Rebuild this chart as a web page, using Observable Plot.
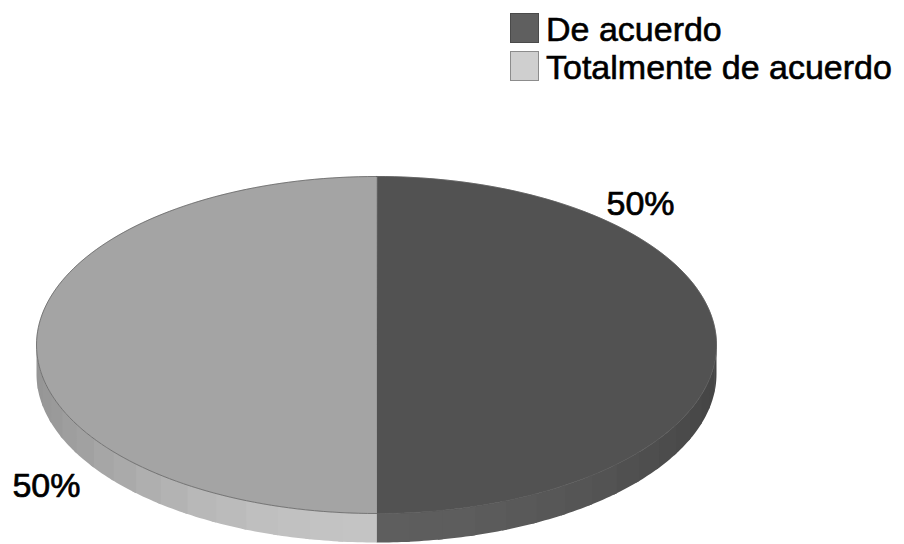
<!DOCTYPE html>
<html>
<head>
<meta charset="utf-8">
<script src="https://cdn.jsdelivr.net/npm/d3@7"></script>
<script src="https://cdn.jsdelivr.net/npm/@observablehq/plot@0.6"></script>
<style>
  html, body { margin: 0; padding: 0; background: #fff; }
  #wrap { position: relative; width: 904px; height: 544px; font-family: "Liberation Sans", Arial, sans-serif; }
  #legend { position: absolute; left: 510px; top: 10px; }
  .row { position: relative; height: 38px; line-height: 38px; font-size: 34px; color: #000; white-space: nowrap; -webkit-text-stroke: 0.6px #000; }
  .sw { position: absolute; left: 0; top: 3px; width: 29px; height: 30px; box-sizing: border-box; }
  .row span.t { margin-left: 36px; }
</style>
</head>
<body>
<div id="wrap"><div id="chart"></div><div id="legend"></div></div>
<script>
// ---- data ----
const categories = ["De acuerdo", "Totalmente de acuerdo"];
const values = [50, 50];
const labels = ["50%", "50%"];

// ---- styles ----
const topFill = ["#525252", "#a4a4a4"];
const sideEdge = ["#454545", "#959595"];
const sideMid = ["#5e5e5e", "#c4c4c4"];
const legendFill = ["#5f5f5f", "#cfcfcf"];
const legendStroke = ["#4a4a4a", "#8c8c8c"];

const W = 904, H = 544;
const cxPx = 376, cyPx = 344.5, rxPx = 340, ryPx = 168.5, depthPx = 29;
const depth = depthPx / ryPx;

const pie = d3.pie().sort(null).value(d => d)(values);
const pt = a => [Math.sin(a), Math.cos(a)];

// top faces
const tops = [];
pie.forEach((p, i) => {
  const n = 120;
  tops.push({id: "t" + i, x: 0, y: 0, fill: topFill[i]});
  for (let k = 0; k <= n; k++) {
    const a = p.startAngle + (p.endAngle - p.startAngle) * k / n;
    const [x, y] = pt(a);
    tops.push({id: "t" + i, x, y, fill: topFill[i]});
  }
});
// outline of the top rim (outer arc only)
const rim = [];
for (let k = 0; k <= 240; k++) {
  const a = 2 * Math.PI * k / 240;
  const [x, y] = pt(a);
  rim.push({x, y});
}

// sides (front half, banded shading)
const sides = [];
pie.forEach((p, i) => {
  const a0 = Math.max(p.startAngle, Math.PI / 2);
  const a1 = Math.min(p.endAngle, 3 * Math.PI / 2);
  if (a1 <= a0) return;
  const bands = 16;
  const step = (a1 - a0) / bands;
  for (let b = 0; b < bands; b++) {
    const s = a0 + step * b;
    const e = Math.min(a1, a0 + step * (b + 1) + step * 0.15);
    const m = a0 + step * (b + 0.5);
    const t = Math.pow(Math.abs(Math.sin(m)), 2);
    const col = d3.interpolateRgb(sideMid[i], sideEdge[i])(t);
    const id = "s" + i + "_" + b;
    const steps = 8;
    const upper = [], lower = [];
    for (let k = 0; k <= steps; k++) {
      const a = s + (e - s) * k / steps;
      const [x, y] = pt(a);
      upper.push({id, x, y, fill: col});
      lower.push({id, x, y: y - depth, fill: col});
    }
    sides.push(...upper, ...lower.reverse());
  }
});

// labels
const labelPts = pie.map((p, i) => {
  const a = p.startAngle + (p.endAngle - p.startAngle) * 0.25;
  const r = 1.09;
  const x = r * Math.sin(a);
  const y = -depth / 2 + r * (1 + depth / 2) * Math.cos(a);
  return {x, y, text: labels[i], right: x >= 0};
});

const font = "Liberation Sans, Arial, sans-serif";
const textOpts = {x: "x", y: "y", text: "text", fontSize: 34, fontFamily: font, fill: "#000", stroke: "#000", strokeWidth: 0.7, dx: -32, dy: -14};
const chart = Plot.plot({
  width: W,
  height: H,
  margin: 0,
  x: {domain: [-cxPx / rxPx, (W - cxPx) / rxPx], axis: null},
  y: {domain: [(cyPx - H) / ryPx, cyPx / ryPx], axis: null},
  style: {background: "white"},
  marks: [
    Plot.line(sides, {x: "x", y: "y", z: "id", fill: "fill", stroke: "none", curve: "linear-closed"}),
    Plot.line(tops, {x: "x", y: "y", z: "id", fill: "fill", stroke: "fill", strokeWidth: 0.5, curve: "linear-closed"}),
    Plot.line(rim, {x: "x", y: "y", stroke: "#5a5a5a", strokeWidth: 0.7}),
    Plot.text(labelPts.filter(d => d.right), {...textOpts, textAnchor: "start"}),
    Plot.text(labelPts.filter(d => !d.right), {...textOpts, textAnchor: "end", dx: -34})
  ]
});
document.getElementById("chart").appendChild(chart);

// legend
const legend = document.getElementById("legend");
categories.forEach((c, i) => {
  const row = document.createElement("div");
  row.className = "row";
  const sw = document.createElement("span");
  sw.className = "sw";
  sw.style.background = legendFill[i];
  sw.style.border = "1.5px solid " + legendStroke[i];
  const t = document.createElement("span");
  t.className = "t";
  t.textContent = c;
  row.appendChild(sw);
  row.appendChild(t);
  legend.appendChild(row);
});
</script>
</body>
</html>
